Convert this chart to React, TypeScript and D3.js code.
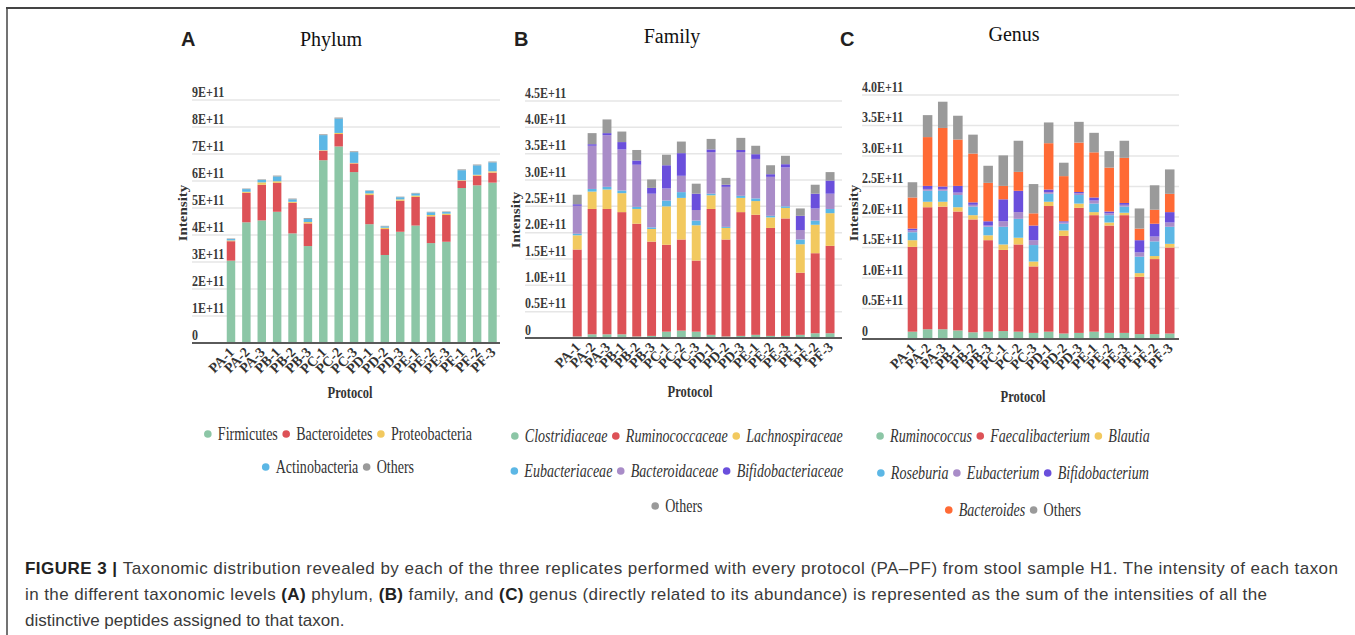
import React from 'react';
import * as d3 from 'd3';

// replicate labels, shared by the three panels
const protocols = [
  'PA-1', 'PA-2', 'PA-3', 'PB-1', 'PB-2', 'PB-3', 'PC-1', 'PC-2', 'PC-3',
  'PD-1', 'PD-2', 'PD-3', 'PE-1', 'PE-2', 'PE-3', 'PF-1', 'PF-2', 'PF-3',
];

// all intensities below are in units of 1E+11
const phylumNames = ['Firmicutes', 'Bacteroidetes', 'Proteobacteria', 'Actinobacteria', 'Others'];
const phylumColors = ['#8cc6a6', '#dd5257', '#f2c95f', '#5cb7e5', '#9a9a9a'];
const firmicutes = [3.05, 4.47, 4.54, 4.86, 4.06, 3.59, 6.77, 7.28, 6.33, 4.40, 3.26, 4.12, 4.35, 3.70, 3.75, 5.74, 5.84, 5.94];
const bacteroidetes = [0.72, 1.09, 1.32, 1.07, 1.13, 0.84, 0.35, 0.46, 0.32, 1.08, 0.96, 1.15, 1.06, 0.99, 0.99, 0.27, 0.36, 0.37];
const proteobacteria = [0.03, 0.04, 0.09, 0.06, 0.04, 0.05, 0.02, 0.04, 0.02, 0.06, 0.05, 0.05, 0.05, 0.05, 0.05, 0.02, 0.03, 0.05];
const actinobacteria = [0.05, 0.10, 0.09, 0.18, 0.09, 0.12, 0.56, 0.53, 0.40, 0.09, 0.05, 0.08, 0.08, 0.10, 0.06, 0.37, 0.35, 0.33];
const phylumOthers = [0.02, 0.02, 0.02, 0.03, 0.03, 0.03, 0.03, 0.04, 0.03, 0.02, 0.02, 0.02, 0.02, 0.02, 0.02, 0.03, 0.03, 0.03];
const phylumTicks = ['0', '1E+11', '2E+11', '3E+11', '4E+11', '5E+11', '6E+11', '7E+11', '8E+11', '9E+11'];

const familyNames = ['Clostridiaceae', 'Ruminococcaceae', 'Lachnospiraceae', 'Eubacteriaceae', 'Bacteroidaceae', 'Bifidobacteriaceae', 'Others'];
const familyColors = ['#8cc6a6', '#dd5257', '#f2c95f', '#5cb7e5', '#a98cc8', '#6a4fdc', '#9a9a9a'];
const clostridiaceae = [0.03, 0.07, 0.07, 0.07, 0.03, 0.04, 0.12, 0.14, 0.12, 0.06, 0.03, 0.04, 0.06, 0.04, 0.04, 0.06, 0.09, 0.09];
const ruminococcaceae = [1.65, 2.38, 2.38, 2.32, 2.14, 1.79, 1.65, 1.73, 1.35, 2.39, 1.84, 2.35, 2.28, 2.05, 2.23, 1.18, 1.52, 1.66];
const lachnospiraceae = [0.27, 0.33, 0.37, 0.36, 0.28, 0.24, 0.73, 0.79, 0.67, 0.26, 0.22, 0.27, 0.26, 0.20, 0.20, 0.54, 0.54, 0.62];
const eubacteriaceae = [0.03, 0.05, 0.05, 0.05, 0.04, 0.03, 0.11, 0.11, 0.09, 0.03, 0.02, 0.04, 0.05, 0.03, 0.03, 0.09, 0.08, 0.08];
const bacteroidaceae = [0.53, 0.82, 0.98, 0.78, 0.80, 0.64, 0.23, 0.31, 0.20, 0.79, 0.76, 0.83, 0.75, 0.74, 0.74, 0.18, 0.23, 0.29];
const bifidobacteriaceae = [0.03, 0.03, 0.04, 0.14, 0.08, 0.11, 0.44, 0.43, 0.31, 0.05, 0.04, 0.04, 0.09, 0.05, 0.06, 0.27, 0.28, 0.25];
const familyOthers = [0.18, 0.21, 0.26, 0.20, 0.20, 0.16, 0.20, 0.22, 0.19, 0.20, 0.13, 0.23, 0.16, 0.17, 0.16, 0.14, 0.17, 0.16];
const familyTicks = ['0', '0.5E+11', '1.0E+11', '1.5E+11', '2.0E+11', '2.5E+11', '3.0E+11', '3.5E+11', '4.0E+11', '4.5E+11'];

const genusNames = ['Ruminococcus', 'Faecalibacterium', 'Blautia', 'Roseburia', 'Eubacterium', 'Bifidobacterium', 'Bacteroides', 'Others'];
const genusColors = ['#8cc6a6', '#dd5257', '#f2c95f', '#5cb7e5', '#a98cc8', '#6a4fdc', '#ff6a35', '#9a9a9a'];
const ruminococcus = [0.12, 0.16, 0.16, 0.14, 0.11, 0.12, 0.13, 0.12, 0.10, 0.12, 0.09, 0.10, 0.12, 0.10, 0.10, 0.08, 0.08, 0.09];
const faecalibacterium = [1.39, 2.00, 2.01, 1.95, 1.85, 1.50, 1.33, 1.43, 1.09, 2.06, 1.60, 2.05, 1.91, 1.76, 1.93, 0.94, 1.23, 1.41];
const blautia = [0.11, 0.09, 0.08, 0.07, 0.07, 0.08, 0.09, 0.11, 0.08, 0.07, 0.09, 0.07, 0.05, 0.05, 0.04, 0.06, 0.05, 0.06];
const roseburia = [0.13, 0.18, 0.18, 0.20, 0.14, 0.14, 0.29, 0.31, 0.27, 0.13, 0.11, 0.14, 0.14, 0.12, 0.10, 0.27, 0.24, 0.28];
const eubacterium = [0.03, 0.03, 0.03, 0.04, 0.03, 0.02, 0.09, 0.11, 0.08, 0.03, 0.02, 0.03, 0.05, 0.03, 0.03, 0.07, 0.08, 0.07];
const bifidobacterium = [0.03, 0.05, 0.04, 0.11, 0.04, 0.07, 0.36, 0.35, 0.24, 0.04, 0.02, 0.02, 0.05, 0.03, 0.03, 0.20, 0.21, 0.17];
const bacteroides = [0.51, 0.80, 0.96, 0.76, 0.80, 0.63, 0.22, 0.31, 0.20, 0.76, 0.74, 0.81, 0.74, 0.72, 0.74, 0.19, 0.23, 0.30];
const genusOthers = [0.25, 0.36, 0.43, 0.39, 0.31, 0.28, 0.50, 0.51, 0.48, 0.34, 0.22, 0.34, 0.32, 0.27, 0.28, 0.33, 0.40, 0.40];
const genusTicks = ['0', '0.5E+11', '1.0E+11', '1.5E+11', '2.0E+11', '2.5E+11', '3.0E+11', '3.5E+11', '4.0E+11'];

const SERIF = "'Liberation Serif', 'Times New Roman', serif";
const SANS = "'Liberation Sans', Arial, sans-serif";
const SQUEEZE = 0.78; // the original chart images are squashed horizontally

let ctx: CanvasRenderingContext2D | null = null;
function textWidth(s: string, font: string) {
  if (!ctx) ctx = document.createElement('canvas').getContext('2d');
  ctx!.font = font;
  return ctx!.measureText(s).width;
}

const panels = [
  {
    letter: 'A', letterX: 181, title: 'Phylum', titleX: 331, titleY: 46,
    names: phylumNames, colors: phylumColors, italic: false,
    values: [firmicutes, bacteroidetes, proteobacteria, actinobacteria, phylumOthers],
    ticks: phylumTicks, tickStep: 1,
    yRange: [343, 100], grid: [192, 500], xRange: [223.3, 500.2], pad: 0.45,
    intensity: [187, 213], protocolPos: [350, 398],
    legendRows: [[0, 1, 2], [3, 4]], legendY: [434, 467], legendCx: 338,
  },
  {
    letter: 'B', letterX: 514, title: 'Family', titleX: 672, titleY: 43,
    names: familyNames, colors: familyColors, italic: true,
    values: [clostridiaceae, ruminococcaceae, lachnospiraceae, eubacteriaceae, bacteroidaceae, bifidobacteriaceae, familyOthers],
    ticks: familyTicks, tickStep: 0.5,
    yRange: [338, 101], grid: [525, 842], xRange: [569.8, 837.5], pad: 0.4,
    intensity: [520, 220], protocolPos: [690, 397],
    legendRows: [[0, 1, 2], [3, 4, 5], [6]], legendY: [436, 471, 506], legendCx: 677,
  },
  {
    letter: 'C', letterX: 840, title: 'Genus', titleX: 1014, titleY: 41,
    names: genusNames, colors: genusColors, italic: true,
    values: [ruminococcus, faecalibacterium, blautia, roseburia, eubacterium, bifidobacterium, bacteroides, genusOthers],
    ticks: genusTicks, tickStep: 0.5,
    yRange: [339, 95], grid: [862, 1179], xRange: [904.9, 1177.3], pad: 0.37,
    intensity: [858, 213], protocolPos: [1023, 402],
    legendRows: [[0, 1, 2], [3, 4, 5], [6, 7]], legendY: [436, 473, 510], legendCx: 1013,
  },
];

function Panel({ cfg }: { cfg: any }) {
  const { names, colors, values, ticks, tickStep, yRange, grid, xRange, pad } = cfg;
  const rows = protocols.map((p, i) => {
    const r: any = { p };
    names.forEach((n: string, k: number) => (r[n] = values[k][i]));
    return r;
  });
  const series = d3.stack().keys(names)(rows);
  const x = d3.scaleBand().domain(protocols).range(xRange).paddingInner(pad).paddingOuter(pad / 2);
  const y = d3.scaleLinear().domain([0, tickStep * (ticks.length - 1)]).range(yRange);
  const base = y(0);

  const legend = cfg.legendRows.map((row: number[], ri: number) => {
    const items = row.map((k) => {
      const it = cfg.italic && names[k] !== 'Others';
      return { k, it, w: textWidth(names[k], `${it ? 'italic ' : ''}18px ${SERIF}`) * SQUEEZE };
    });
    const total = items.reduce((s, d) => s + 10 + d.w, 0) + 8.3 * (items.length - 1) + 3.8;
    let cx = cfg.legendCx - total / 2 + 3.8;
    const ry = cfg.legendY[ri];
    return items.map((d) => {
      const el = (
        <g key={names[d.k]}>
          <circle cx={cx} cy={ry} r={3.8} fill={colors[d.k]} />
          <text
            transform={`translate(${cx + 10},${ry + 5.5}) scale(${SQUEEZE},1)`}
            fontFamily={SERIF}
            fontSize={18}
            fontStyle={d.it ? 'italic' : 'normal'}
            fill="#333"
          >
            {names[d.k]}
          </text>
        </g>
      );
      cx += 10 + d.w + 8.3;
      return el;
    });
  });

  return (
    <g>
      <text x={cfg.letterX} y={46} fontFamily={SANS} fontWeight="bold" fontSize={20} fill="#231f20">
        {cfg.letter}
      </text>
      <text x={cfg.titleX} y={cfg.titleY} textAnchor="middle" fontFamily={SERIF} fontSize={20} fill="#111">
        {cfg.title}
      </text>
      {ticks.map((t: string, i: number) => (
        <g key={t}>
          {i > 0 && (
            <line x1={grid[0]} x2={grid[1]} y1={y(i * tickStep)} y2={y(i * tickStep)} stroke="#e6e6e6" strokeWidth={1.5} />
          )}
          <text
            transform={`translate(${grid[0]},${y(i * tickStep) - 3.5}) scale(0.8,1)`}
            fontFamily={SERIF}
            fontWeight="bold"
            fontSize={15}
            fill="#3a3a3a"
          >
            {t}
          </text>
        </g>
      ))}
      {series.map((s, k) => (
        <g key={names[k]} fill={colors[k]}>
          {s.map((d: any) => (
            <rect
              key={d.data.p}
              x={x(d.data.p)}
              width={x.bandwidth()}
              y={y(d[1])}
              height={Math.max(0, y(d[0]) - y(d[1]))}
            />
          ))}
        </g>
      ))}
      <line x1={grid[0]} x2={grid[1]} y1={base} y2={base} stroke="#5a5a5a" strokeWidth={2} />
      {protocols.map((p) => (
        <text
          key={p}
          transform={`translate(${(x(p) as number) + x.bandwidth() / 2 + 4},${base + 10}) rotate(-45)`}
          textAnchor="end"
          fontFamily={SERIF}
          fontWeight="bold"
          fontSize={14}
          fill="#333"
        >
          {p}
        </text>
      ))}
      <text
        transform={`translate(${cfg.intensity[0]},${cfg.intensity[1]}) scale(${SQUEEZE},1) rotate(-90)`}
        textAnchor="middle"
        fontFamily={SERIF}
        fontWeight="bold"
        fontSize={15}
        fill="#333"
      >
        Intensity
      </text>
      <text
        transform={`translate(${cfg.protocolPos[0]},${cfg.protocolPos[1]}) scale(${SQUEEZE},1)`}
        textAnchor="middle"
        fontFamily={SERIF}
        fontWeight="bold"
        fontSize={16}
        fill="#333"
      >
        Protocol
      </text>
      {legend}
    </g>
  );
}

export default function App() {
  return (
    <svg width={1355} height={635} style={{ position: 'absolute', left: 0, top: 0, background: '#fff' }}>
      <rect width={1355} height={635} fill="#fff" />
      <line x1={6} x2={1355} y1={8} y2={8} stroke="#444" strokeWidth={2} />
      <line x1={7} x2={7} y1={8} y2={635} stroke="#444" strokeWidth={1.5} />
      {panels.map((cfg) => (
        <Panel key={cfg.letter} cfg={cfg} />
      ))}
      <g fontFamily={SANS} fontSize={17} fill="#3a3a3a">
        <text x={25} y={574} textLength={1313} lengthAdjust="spacing">
          <tspan fontWeight="bold" fill="#222">FIGURE 3 | </tspan>
          Taxonomic distribution revealed by each of the three replicates performed with every protocol (PA–PF) from stool sample H1. The intensity of each taxon
        </text>
        <text x={25} y={600} textLength={1242} lengthAdjust="spacing">
          in the different taxonomic levels <tspan fontWeight="bold" fill="#222">(A)</tspan> phylum,{' '}
          <tspan fontWeight="bold" fill="#222">(B)</tspan> family, and <tspan fontWeight="bold" fill="#222">(C)</tspan> genus (directly related to its abundance) is represented as the sum of the intensities of all the
        </text>
        <text x={25} y={626}>
          distinctive peptides assigned to that taxon.
        </text>
      </g>
    </svg>
  );
}
